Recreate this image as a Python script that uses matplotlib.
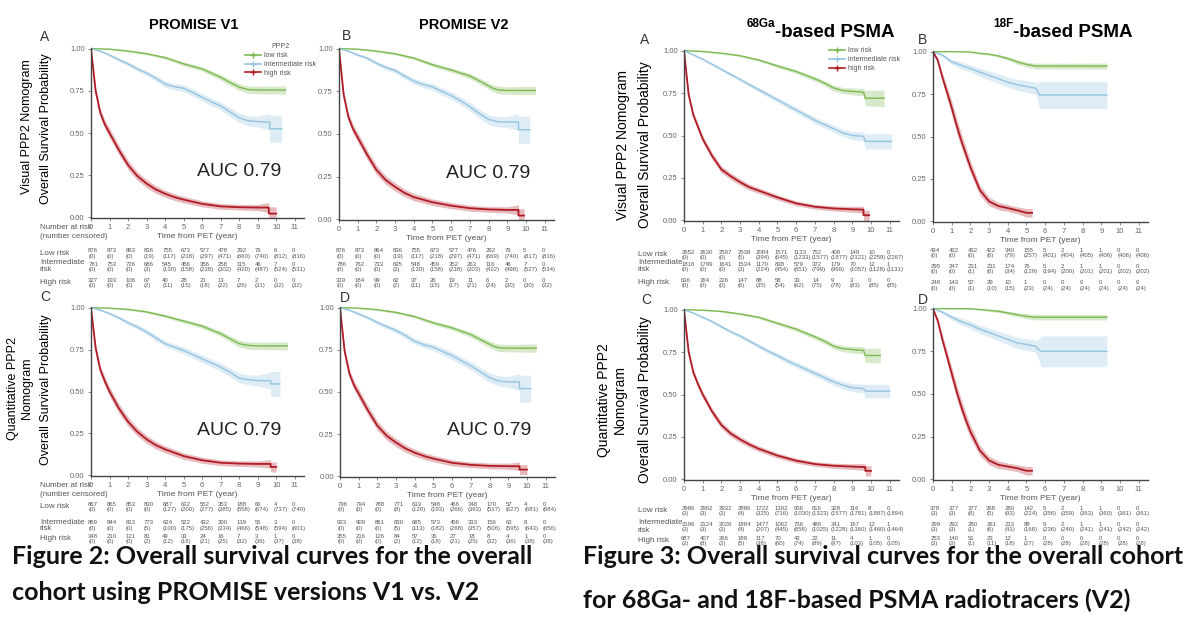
import matplotlib
matplotlib.use('Agg')
import numpy as np
import matplotlib.pyplot as plt
from matplotlib.lines import Line2D
from matplotlib.transforms import blended_transform_factory

W, H = 1200, 624
plt.rcParams['font.family'] = ['Liberation Sans', 'DejaVu Sans']

GREEN = '#7cb950'
BLUE = '#94c4e0'
RED = '#b01c26'
GRAY = '#555555'

years = list(range(12))

# ---------------- Figure 2, panel A (PROMISE V1, visual) ----------------
a_low_t = [0, 1, 2, 3, 4, 5, 6, 7, 7.5, 8, 8.5, 9, 10, 10.5]
a_low_s = [1, 0.997, 0.986, 0.97, 0.947, 0.91, 0.88, 0.83, 0.80, 0.772, 0.757, 0.755, 0.755, 0.755]
a_low_ci = [0, 0.002, 0.005, 0.007, 0.009, 0.011, 0.013, 0.016, 0.018, 0.02, 0.022, 0.022, 0.024, 0.024]
a_int_t = [0, 0.5, 1, 1.5, 2, 2.5, 3, 3.5, 4, 4.5, 5, 5.5, 6, 6.5, 7, 7.5, 8, 8.5, 9, 9.65, 9.65, 10.3]
a_int_s = [1, 0.985, 0.962, 0.935, 0.91, 0.88, 0.855, 0.825, 0.79, 0.775, 0.765, 0.74, 0.712, 0.685, 0.66, 0.625, 0.59, 0.572, 0.568, 0.565, 0.525, 0.525]
a_int_ci = [0, 0.005, 0.008, 0.01, 0.012, 0.014, 0.015, 0.017, 0.018, 0.019, 0.02, 0.021, 0.022, 0.023, 0.024, 0.026, 0.028, 0.03, 0.032, 0.05, 0.08, 0.08]
a_high_t = [0, 0.25, 0.5, 0.75, 1, 1.5, 2, 2.5, 3, 3.5, 4, 4.5, 5, 6, 7, 8, 9, 9.6, 9.6, 10]
a_high_s = [1, 0.75, 0.62, 0.55, 0.50, 0.40, 0.31, 0.245, 0.20, 0.165, 0.14, 0.12, 0.105, 0.08, 0.065, 0.06, 0.058, 0.058, 0.022, 0.022]
a_high_ci = [0, 0.02, 0.025, 0.027, 0.028, 0.028, 0.027, 0.025, 0.024, 0.022, 0.021, 0.02, 0.019, 0.018, 0.017, 0.017, 0.018, 0.03, 0.04, 0.04]

# ---------------- Figure 2, panel B (PROMISE V2, visual) ----------------
b_low_t = [0, 1, 2, 3, 4, 5, 6, 7, 7.7, 8.2, 8.5, 9, 10, 10.5]
b_low_s = [1, 0.997, 0.986, 0.97, 0.945, 0.906, 0.875, 0.84, 0.80, 0.77, 0.758, 0.755, 0.755, 0.755]
b_low_ci = [0, 0.002, 0.005, 0.007, 0.009, 0.011, 0.013, 0.016, 0.018, 0.02, 0.022, 0.022, 0.024, 0.024]
b_int_t = [0, 0.5, 1, 1.5, 2, 2.5, 3, 3.5, 4, 4.5, 5, 5.5, 6, 6.5, 7, 7.5, 8, 8.5, 9, 9.6, 9.6, 10.2]
b_int_s = [1, 0.985, 0.963, 0.945, 0.915, 0.89, 0.872, 0.84, 0.81, 0.79, 0.776, 0.75, 0.725, 0.695, 0.66, 0.62, 0.585, 0.572, 0.57, 0.57, 0.525, 0.525]
b_int_ci = [0, 0.005, 0.008, 0.01, 0.012, 0.014, 0.015, 0.017, 0.018, 0.019, 0.02, 0.021, 0.022, 0.023, 0.024, 0.026, 0.028, 0.03, 0.032, 0.05, 0.08, 0.08]
b_high_t = [0, 0.25, 0.5, 0.75, 1, 1.5, 2, 2.5, 3, 3.5, 4, 4.5, 5, 6, 7, 8, 9, 9.6, 9.6, 9.9]
b_high_s = [1, 0.73, 0.60, 0.53, 0.48, 0.38, 0.29, 0.23, 0.19, 0.155, 0.13, 0.115, 0.10, 0.08, 0.065, 0.058, 0.055, 0.055, 0.022, 0.022]
b_high_ci = [0, 0.02, 0.025, 0.027, 0.028, 0.028, 0.027, 0.025, 0.024, 0.022, 0.021, 0.02, 0.019, 0.018, 0.017, 0.017, 0.018, 0.03, 0.04, 0.04]

# ---------------- Figure 2, panel C (PROMISE V1, quantitative) ----------------
c_low_t = [0, 1, 2, 3, 4, 5, 6, 7, 7.5, 8, 8.5, 9, 10, 10.6]
c_low_s = [1, 0.997, 0.99, 0.975, 0.95, 0.92, 0.89, 0.845, 0.815, 0.785, 0.775, 0.772, 0.772, 0.772]
c_low_ci = [0, 0.002, 0.005, 0.007, 0.009, 0.011, 0.013, 0.016, 0.018, 0.02, 0.022, 0.022, 0.024, 0.024]
c_int_t = [0, 0.5, 1, 1.5, 2, 2.5, 3, 3.5, 4, 4.5, 5, 5.5, 6, 6.5, 7, 7.5, 8, 8.5, 9, 9.7, 9.7, 10.2]
c_int_s = [1, 0.985, 0.965, 0.94, 0.91, 0.885, 0.855, 0.82, 0.785, 0.765, 0.745, 0.72, 0.695, 0.67, 0.645, 0.615, 0.58, 0.57, 0.565, 0.565, 0.545, 0.545]
c_int_ci = [0, 0.005, 0.008, 0.01, 0.012, 0.014, 0.015, 0.017, 0.018, 0.019, 0.02, 0.021, 0.022, 0.023, 0.024, 0.026, 0.028, 0.03, 0.032, 0.05, 0.075, 0.075]
c_high_t = [0, 0.25, 0.5, 0.75, 1, 1.5, 2, 2.5, 3, 3.5, 4, 4.5, 5, 6, 7, 8, 9, 9.7, 9.7, 10]
c_high_s = [1, 0.76, 0.63, 0.56, 0.50, 0.40, 0.32, 0.26, 0.215, 0.18, 0.155, 0.135, 0.115, 0.09, 0.075, 0.07, 0.068, 0.068, 0.05, 0.05]
c_high_ci = [0, 0.02, 0.025, 0.027, 0.028, 0.028, 0.027, 0.025, 0.024, 0.022, 0.021, 0.02, 0.019, 0.018, 0.017, 0.017, 0.018, 0.025, 0.03, 0.03]

# ---------------- Figure 2, panel D (PROMISE V2, quantitative) ----------------
d_low_t = [0, 1, 2, 3, 4, 5, 6, 7, 7.7, 8.2, 8.5, 9, 10, 10.5]
d_low_s = [1, 0.997, 0.988, 0.972, 0.947, 0.91, 0.88, 0.84, 0.80, 0.772, 0.762, 0.76, 0.76, 0.76]
d_low_ci = [0, 0.002, 0.005, 0.007, 0.009, 0.011, 0.013, 0.016, 0.018, 0.02, 0.022, 0.022, 0.024, 0.024]
d_int_t = [0, 0.5, 1, 1.5, 2, 2.5, 3, 3.5, 4, 4.5, 5, 5.5, 6, 6.5, 7, 7.5, 8, 8.5, 9, 9.6, 9.6, 10.2]
d_int_s = [1, 0.985, 0.963, 0.94, 0.912, 0.888, 0.865, 0.835, 0.80, 0.78, 0.765, 0.74, 0.715, 0.685, 0.655, 0.62, 0.585, 0.565, 0.56, 0.56, 0.52, 0.52]
d_int_ci = [0, 0.005, 0.008, 0.01, 0.012, 0.014, 0.015, 0.017, 0.018, 0.019, 0.02, 0.021, 0.022, 0.023, 0.024, 0.026, 0.028, 0.03, 0.032, 0.05, 0.08, 0.08]
d_high_t = [0, 0.25, 0.5, 0.75, 1, 1.5, 2, 2.5, 3, 3.5, 4, 4.5, 5, 6, 7, 8, 9, 9.6, 9.6, 10]
d_high_s = [1, 0.74, 0.61, 0.54, 0.49, 0.39, 0.30, 0.24, 0.20, 0.165, 0.14, 0.12, 0.105, 0.08, 0.068, 0.062, 0.06, 0.06, 0.04, 0.04]
d_high_ci = [0, 0.02, 0.025, 0.027, 0.028, 0.028, 0.027, 0.025, 0.024, 0.022, 0.021, 0.02, 0.019, 0.018, 0.017, 0.017, 0.018, 0.025, 0.03, 0.03]

# ---------------- Figure 3, panel A (68Ga, visual) ----------------
ga_low_t = [0, 1, 2, 3, 4, 5, 6, 7, 7.5, 8, 8.5, 9, 9.6, 9.7, 10.7]
ga_low_s = [1, 0.995, 0.985, 0.97, 0.945, 0.91, 0.877, 0.834, 0.81, 0.78, 0.765, 0.76, 0.755, 0.72, 0.72]
ga_low_ci = [0, 0.002, 0.004, 0.006, 0.008, 0.01, 0.012, 0.014, 0.015, 0.017, 0.018, 0.02, 0.022, 0.045, 0.05]
ga_int_t = [0, 0.5, 1, 1.5, 2, 2.5, 3, 3.5, 4, 4.5, 5, 5.5, 6, 6.5, 7, 7.5, 8, 8.5, 9, 9.6, 9.7, 11.1]
ga_int_s = [1, 0.975, 0.95, 0.92, 0.89, 0.86, 0.83, 0.80, 0.77, 0.74, 0.71, 0.68, 0.65, 0.62, 0.59, 0.565, 0.54, 0.515, 0.50, 0.495, 0.465, 0.465]
ga_int_ci = [0, 0.005, 0.007, 0.008, 0.009, 0.01, 0.011, 0.012, 0.013, 0.014, 0.015, 0.016, 0.017, 0.018, 0.019, 0.02, 0.021, 0.022, 0.024, 0.026, 0.045, 0.045]
ga_high_t = [0, 0.25, 0.5, 0.75, 1, 1.5, 2, 2.5, 3, 3.5, 4, 4.5, 5, 6, 7, 8, 9, 9.6, 9.6, 9.9]
ga_high_s = [1, 0.74, 0.62, 0.55, 0.48, 0.38, 0.30, 0.26, 0.225, 0.195, 0.175, 0.155, 0.135, 0.10, 0.08, 0.07, 0.065, 0.063, 0.03, 0.03]
ga_high_ci = [0, 0.015, 0.018, 0.02, 0.02, 0.02, 0.02, 0.019, 0.018, 0.017, 0.016, 0.016, 0.015, 0.014, 0.014, 0.015, 0.017, 0.02, 0.03, 0.03]

# ---------------- Figure 3, panel B (18F, visual) ----------------
f_low_t = [0, 1, 2, 2.5, 3, 3.5, 4, 4.5, 5, 5.5, 9.3]
f_low_s = [1, 1, 0.998, 0.99, 0.985, 0.975, 0.96, 0.94, 0.925, 0.915, 0.915]
f_low_ci = [0, 0, 0.002, 0.004, 0.006, 0.008, 0.01, 0.013, 0.015, 0.017, 0.018]
f_int_t = [0, 0.5, 1, 1.5, 2, 2.5, 3, 3.5, 4, 4.5, 5, 5.5, 5.6, 5.7, 9.3]
f_int_s = [1, 0.98, 0.94, 0.92, 0.90, 0.88, 0.86, 0.84, 0.82, 0.805, 0.795, 0.785, 0.765, 0.745, 0.745]
f_int_ci = [0, 0.01, 0.015, 0.02, 0.022, 0.024, 0.026, 0.028, 0.03, 0.032, 0.034, 0.036, 0.05, 0.08, 0.08]
f_high_t = [0, 0.25, 0.5, 0.75, 1, 1.25, 1.5, 1.75, 2, 2.5, 3, 3.5, 4, 4.5, 5, 5.3]
f_high_s = [1, 0.95, 0.85, 0.76, 0.67, 0.57, 0.48, 0.40, 0.32, 0.185, 0.117, 0.09, 0.078, 0.065, 0.05, 0.05]
f_high_ci = [0, 0.015, 0.025, 0.035, 0.04, 0.042, 0.042, 0.04, 0.037, 0.03, 0.025, 0.022, 0.02, 0.02, 0.025, 0.025]

# ---------------- Figure 3, panel C (68Ga, quantitative) ----------------
gq_low_t = [0, 1, 2, 3, 4, 5, 6, 7, 7.5, 8, 8.5, 9, 9.6, 9.7, 10.5]
gq_low_s = [1, 0.997, 0.99, 0.975, 0.955, 0.92, 0.885, 0.84, 0.815, 0.785, 0.77, 0.765, 0.76, 0.73, 0.73]
gq_low_ci = [0, 0.002, 0.004, 0.006, 0.008, 0.01, 0.012, 0.014, 0.015, 0.017, 0.018, 0.02, 0.022, 0.04, 0.045]
gq_int_t = [0, 0.5, 1, 1.5, 2, 2.5, 3, 3.5, 4, 4.5, 5, 5.5, 6, 6.5, 7, 7.5, 8, 8.5, 9, 9.6, 9.7, 11.0]
gq_int_s = [1, 0.98, 0.955, 0.93, 0.90, 0.87, 0.845, 0.815, 0.785, 0.755, 0.73, 0.70, 0.675, 0.65, 0.625, 0.60, 0.575, 0.555, 0.54, 0.535, 0.52, 0.52]
gq_int_ci = [0, 0.005, 0.007, 0.008, 0.009, 0.01, 0.011, 0.012, 0.013, 0.014, 0.015, 0.016, 0.017, 0.018, 0.019, 0.02, 0.021, 0.022, 0.024, 0.026, 0.04, 0.04]
gq_high_t = [0, 0.25, 0.5, 0.75, 1, 1.5, 2, 2.5, 3, 3.5, 4, 4.5, 5, 6, 7, 8, 9, 9.7, 9.7, 10]
gq_high_s = [1, 0.75, 0.63, 0.56, 0.50, 0.40, 0.32, 0.27, 0.235, 0.205, 0.18, 0.16, 0.14, 0.11, 0.09, 0.08, 0.075, 0.072, 0.05, 0.05]
gq_high_ci = [0, 0.015, 0.018, 0.02, 0.02, 0.02, 0.02, 0.019, 0.018, 0.017, 0.016, 0.016, 0.015, 0.014, 0.014, 0.015, 0.017, 0.02, 0.03, 0.03]

# ---------------- Figure 3, panel D (18F, quantitative) ----------------
fq_low_t = [0, 1, 2, 2.5, 3, 3.5, 4, 4.5, 5, 5.5, 9.3]
fq_low_s = [1, 1, 1, 0.995, 0.99, 0.985, 0.975, 0.965, 0.955, 0.95, 0.95]
fq_low_ci = [0, 0, 0.002, 0.004, 0.006, 0.008, 0.01, 0.012, 0.014, 0.016, 0.016]
fq_int_t = [0, 0.5, 1, 1.5, 2, 2.5, 3, 3.5, 4, 4.5, 5, 5.5, 5.6, 5.8, 9.3]
fq_int_s = [1, 0.98, 0.95, 0.925, 0.905, 0.88, 0.86, 0.84, 0.82, 0.80, 0.79, 0.78, 0.765, 0.75, 0.75]
fq_int_ci = [0, 0.01, 0.015, 0.02, 0.022, 0.024, 0.026, 0.028, 0.03, 0.032, 0.034, 0.036, 0.05, 0.09, 0.09]
fq_high_t = [0, 0.25, 0.5, 0.75, 1, 1.25, 1.5, 1.75, 2, 2.5, 3, 3.5, 4, 4.5, 5, 5.3]
fq_high_s = [1, 0.93, 0.82, 0.72, 0.62, 0.52, 0.43, 0.35, 0.28, 0.17, 0.11, 0.085, 0.075, 0.065, 0.05, 0.05]
fq_high_ci = [0, 0.015, 0.025, 0.035, 0.04, 0.042, 0.042, 0.04, 0.037, 0.03, 0.025, 0.022, 0.02, 0.02, 0.025, 0.025]

# ---------------- number at risk (number censored) ----------------
a_risk_low = [876, 873, 863, 836, 755, 673, 577, 478, 292, 76, 6, 0]
a_cens_low = [0, 0, 0, 19, 117, 218, 297, 471, 660, 740, 812, 816]
a_risk_int = [781, 753, 726, 686, 545, 456, 356, 258, 115, 46, 7, 0]
a_cens_int = [0, 0, 0, 3, 130, 158, 238, 302, 420, 487, 524, 531]
a_risk_high = [327, 193, 106, 67, 40, 28, 21, 13, 7, 2, 0, 0]
a_cens_high = [0, 0, 0, 2, 11, 15, 18, 22, 26, 31, 32, 32]

b_risk_low = [876, 873, 864, 836, 755, 673, 577, 476, 292, 76, 5, 0]
b_cens_low = [0, 0, 0, 19, 117, 218, 297, 471, 669, 740, 817, 816]
b_risk_int = [786, 762, 733, 695, 548, 459, 352, 263, 116, 46, 7, 0]
b_cens_int = [0, 0, 0, 3, 130, 158, 238, 303, 422, 498, 527, 534]
b_risk_high = [319, 184, 99, 62, 37, 26, 19, 11, 6, 2, 0, 0]
b_cens_high = [0, 0, 0, 2, 11, 15, 17, 21, 24, 30, 30, 32]

c_risk_low = [867, 865, 853, 830, 687, 632, 552, 353, 188, 66, 4, 0]
c_cens_low = [0, 0, 0, 0, 127, 200, 277, 385, 558, 674, 737, 740]
c_risk_int = [869, 844, 813, 773, 624, 522, 432, 300, 139, 55, 3, 0]
c_cens_int = [0, 0, 0, 5, 100, 175, 256, 334, 466, 548, 594, 601]
c_risk_high = [348, 210, 121, 81, 49, 33, 24, 16, 7, 3, 1, 0]
c_cens_high = [0, 0, 0, 2, 12, 16, 21, 25, 32, 36, 37, 38]

d_risk_low = [796, 794, 788, 771, 633, 548, 466, 348, 170, 57, 4, 0]
d_cens_low = [0, 0, 0, 8, 120, 193, 266, 363, 517, 627, 681, 684]
d_risk_int = [933, 909, 861, 830, 685, 573, 456, 333, 156, 63, 8, 0]
d_cens_int = [0, 0, 0, 5, 113, 182, 268, 357, 506, 595, 643, 656]
d_risk_high = [355, 216, 126, 84, 57, 36, 27, 18, 8, 4, 1, 0]
d_cens_high = [0, 0, 0, 2, 12, 18, 21, 25, 32, 36, 38, 38]

ga_risk_low = [2652, 2630, 2597, 2538, 2084, 1571, 1133, 752, 408, 149, 10, 0]
ga_cens_low = [0, 0, 0, 5, 394, 645, 1233, 1577, 1877, 2121, 2259, 2267]
ga_risk_int = [1816, 1799, 1641, 1534, 1170, 838, 579, 372, 179, 70, 12, 1]
ga_cens_int = [0, 0, 0, 3, 224, 454, 651, 799, 969, 1057, 1128, 1131]
ga_risk_high = [636, 364, 226, 147, 88, 58, 33, 14, 9, 3, 0, 0]
ga_cens_high = [0, 0, 0, 6, 35, 54, 62, 75, 78, 83, 85, 85]

f_risk_low = [434, 432, 432, 422, 340, 155, 5, 2, 1, 1, 0, 0]
f_cens_low = [0, 0, 0, 6, 79, 257, 401, 404, 405, 406, 406, 406]
f_risk_int = [295, 247, 231, 211, 174, 76, 5, 2, 1, 1, 0, 0]
f_cens_int = [0, 0, 1, 6, 34, 129, 194, 200, 201, 201, 202, 202]
f_risk_high = [248, 143, 57, 29, 10, 1, 0, 0, 0, 0, 0, 0]
f_cens_high = [0, 0, 1, 10, 15, 23, 24, 24, 24, 24, 24, 24]

gq_risk_low = [2986, 2962, 2932, 2886, 1722, 1302, 936, 616, 328, 116, 8, 0]
gq_cens_low = [3, 3, 3, 4, 325, 716, 1030, 1323, 1577, 1781, 1887, 1894]
gq_risk_int = [2196, 2124, 2026, 1884, 1477, 1062, 736, 486, 241, 167, 12, 1]
gq_cens_int = [3, 3, 3, 4, 207, 445, 658, 1025, 1228, 1360, 1460, 1464]
gq_risk_high = [687, 407, 266, 188, 117, 70, 43, 22, 11, 4, 1, 0]
gq_cens_high = [3, 8, 3, 5, 38, 60, 74, 89, 97, 103, 105, 105]

fq_risk_low = [378, 377, 377, 368, 280, 142, 5, 2, 1, 1, 0, 0]
fq_cens_low = [3, 3, 8, 5, 93, 224, 356, 359, 363, 360, 361, 361]
fq_risk_int = [299, 292, 280, 261, 213, 88, 9, 2, 1, 1, 0, 0]
fq_cens_int = [3, 3, 1, 6, 41, 168, 236, 240, 241, 241, 242, 242]
fq_risk_high = [253, 140, 51, 23, 12, 1, 0, 0, 0, 0, 0, 0]
fq_cens_high = [3, 3, 1, 11, 18, 27, 28, 28, 28, 28, 28, 28]


fig = plt.figure(figsize=(W / 100, H / 100), dpi=100)


def add_axes(l, t, r, b):
    # position given in pixels of the 1200x624 canvas
    return fig.add_axes([l / W, 1 - b / H, (r - l) / W, (b - t) / H])


def style_axes(ax):
    ax.set_xlim(0, 11.5)
    ax.set_ylim(-0.004, 1.004)
    ax.set_xticks(years)
    ax.set_yticks([0, 0.25, 0.5, 0.75, 1.0])
    ax.set_yticklabels(['0.00', '0.25', '0.50', '0.75', '1.00'])
    for side in ['top', 'right']:
        ax.spines[side].set_visible(False)
    for side in ['left', 'bottom']:
        ax.spines[side].set_color('#444444')
        ax.spines[side].set_linewidth(1.0)
    ax.tick_params(labelsize=5.5, labelcolor='#666666', color='#777777',
                   length=2, width=0.6, pad=2.5)
    ax.set_xlabel('Time from PET (year)', fontsize=6, color=GRAY, labelpad=1)
    ax.patch.set_alpha(0)


def curve(ax, t, s, ci, color, lw=1.0):
    t = np.array(t)
    s = np.array(s)
    ci = np.array(ci)
    ax.fill_between(t, s - ci, s + ci, color=color, alpha=0.3, lw=0)
    ax.plot(t, s, color=color, lw=lw)


def risk_table(ax, rows, y_rows, labels=None, label_x=None):
    tr = blended_transform_factory(ax.transData, fig.transFigure)
    for (risk, cens), y in zip(rows, y_rows):
        for k, (n, c) in enumerate(zip(risk, cens)):
            ax.text(k - 0.15, 1 - y / H, str(n), transform=tr, fontsize=4.3,
                    color=GRAY, va='center', ha='left', clip_on=False)
            ax.text(k - 0.15, 1 - (y + 5.5) / H, f'({c})', transform=tr, fontsize=4.3,
                    color=GRAY, va='center', ha='left', clip_on=False)
    if labels:
        for lab, y in zip(labels, y_rows):
            fig.text(label_x / W, 1 - (y + 2.5) / H, lab, fontsize=5.8, color=GRAY,
                     va='center', ha='left', linespacing=1.0)


def panel(box, low, inter, high):
    ax = add_axes(*box)
    style_axes(ax)
    curve(ax, *low, GREEN)
    curve(ax, *inter, BLUE)
    curve(ax, *high, RED, lw=1.3)
    return ax


row_labels = ['Low risk', 'Intermediate\nrisk', 'High risk']

# ---------------- Figure 2 ----------------
ax_a = panel((91, 48, 304, 218), (a_low_t, a_low_s, a_low_ci),
             (a_int_t, a_int_s, a_int_ci), (a_high_t, a_high_s, a_high_ci))
ax_b = panel((339, 48, 554, 220), (b_low_t, b_low_s, b_low_ci),
             (b_int_t, b_int_s, b_int_ci), (b_high_t, b_high_s, b_high_ci))
ax_c = panel((91, 307, 304, 476), (c_low_t, c_low_s, c_low_ci),
             (c_int_t, c_int_s, c_int_ci), (c_high_t, c_high_s, c_high_ci))
ax_d = panel((340, 307, 555, 477), (d_low_t, d_low_s, d_low_ci),
             (d_int_t, d_int_s, d_int_ci), (d_high_t, d_high_s, d_high_ci))

for ax in [ax_a, ax_b, ax_c, ax_d]:
    ax.text(5.7, 0.27, 'AUC 0.79', fontsize=14, color='#222222', va='center')

risk_table(ax_a, [(a_risk_low, a_cens_low), (a_risk_int, a_cens_int), (a_risk_high, a_cens_high)],
           [251, 264, 280], row_labels, 40)
risk_table(ax_b, [(b_risk_low, b_cens_low), (b_risk_int, b_cens_int), (b_risk_high, b_cens_high)],
           [251, 264, 280])
risk_table(ax_c, [(c_risk_low, c_cens_low), (c_risk_int, c_cens_int), (c_risk_high, c_cens_high)],
           [504, 523, 536], row_labels, 40)
risk_table(ax_d, [(d_risk_low, d_cens_low), (d_risk_int, d_cens_int), (d_risk_high, d_cens_high)],
           [504, 523, 536])

fig.text(40 / W, 1 - 232 / H, 'Number at risk\n(number censored)', fontsize=5.8, color=GRAY,
         va='center', ha='left', linespacing=1.3)
fig.text(40 / W, 1 - 490 / H, 'Number at risk\n(number censored)', fontsize=5.8, color=GRAY,
         va='center', ha='left', linespacing=1.3)

fig.text(194 / W, 1 - 25 / H, 'PROMISE V1', fontsize=10.5, fontweight='bold', ha='center', va='center')
fig.text(464 / W, 1 - 25 / H, 'PROMISE V2', fontsize=10.5, fontweight='bold', ha='center', va='center')

for lab, x, y in [('A', 40, 37), ('B', 342, 36), ('C', 40, 297), ('D', 340, 298),
                  ('A', 640, 40), ('B', 918, 40), ('C', 641, 300), ('D', 918, 300)]:
    fig.text(x / W, 1 - y / H, lab, fontsize=10, color='#333333', ha='left', va='center')

fig.text(27 / W, 1 - 127 / H, 'Visual PPP2 Nomogram', fontsize=9, rotation=90, ha='center', va='center')
fig.text(46 / W, 1 - 129 / H, 'Overall Survival Probability', fontsize=9, rotation=90, ha='center', va='center')
fig.text(20 / W, 1 - 388 / H, 'Quantitative PPP2\nNomogram', fontsize=9, rotation=90, ha='center',
         va='center', linespacing=1.2)
fig.text(46 / W, 1 - 390 / H, 'Overall Survival Probability', fontsize=9, rotation=90, ha='center', va='center')

handles = [Line2D([], [], color=c, lw=1.2, marker='+', markersize=4) for c in [GREEN, BLUE, RED]]
leg = fig.legend(handles, ['low risk', 'intermediate risk', 'high risk'], title='PPP2',
                 loc='upper left', bbox_to_anchor=(242 / W, 1 - 40 / H), frameon=False,
                 fontsize=5, title_fontsize=5, handlelength=2.2, handletextpad=0.4,
                 labelspacing=0.25, borderpad=0)
for txt in leg.get_texts():
    txt.set_color(GRAY)
leg.get_title().set_color(GRAY)

# ---------------- Figure 3 ----------------
ax_ga = panel((684, 50, 899, 221), (ga_low_t, ga_low_s, ga_low_ci),
              (ga_int_t, ga_int_s, ga_int_ci), (ga_high_t, ga_high_s, ga_high_ci))
ax_f = panel((933, 51, 1148, 222), (f_low_t, f_low_s, f_low_ci),
             (f_int_t, f_int_s, f_int_ci), (f_high_t, f_high_s, f_high_ci))
ax_gq = panel((684, 309, 899, 480), (gq_low_t, gq_low_s, gq_low_ci),
              (gq_int_t, gq_int_s, gq_int_ci), (gq_high_t, gq_high_s, gq_high_ci))
ax_fq = panel((933, 308, 1148, 480), (fq_low_t, fq_low_s, fq_low_ci),
              (fq_int_t, fq_int_s, fq_int_ci), (fq_high_t, fq_high_s, fq_high_ci))

risk_table(ax_ga, [(ga_risk_low, ga_cens_low), (ga_risk_int, ga_cens_int), (ga_risk_high, ga_cens_high)],
           [252, 264, 280], row_labels, 638)
risk_table(ax_f, [(f_risk_low, f_cens_low), (f_risk_int, f_cens_int), (f_risk_high, f_cens_high)],
           [250, 266, 283])
risk_table(ax_gq, [(gq_risk_low, gq_cens_low), (gq_risk_int, gq_cens_int), (gq_risk_high, gq_cens_high)],
           [508, 524, 538], row_labels, 638)
risk_table(ax_fq, [(fq_risk_low, fq_cens_low), (fq_risk_int, fq_cens_int), (fq_risk_high, fq_cens_high)],
           [508, 524, 538])

fig.text(775 / W, 1 - 37 / H, '-based PSMA', fontsize=13.5, fontweight='bold', ha='left', va='baseline')
fig.text(775 / W, 1 - 27 / H, '68Ga', fontsize=8.5, fontweight='bold', ha='right', va='baseline')
fig.text(1013 / W, 1 - 37 / H, '-based PSMA', fontsize=13.5, fontweight='bold', ha='left', va='baseline')
fig.text(1013 / W, 1 - 27 / H, '18F', fontsize=8.5, fontweight='bold', ha='right', va='baseline')

fig.text(623 / W, 1 - 145 / H, 'Visual PPP2 Nomogram', fontsize=10, rotation=90, ha='center', va='center')
fig.text(645 / W, 1 - 145 / H, 'Overall Survival Probability', fontsize=10, rotation=90, ha='center', va='center')
fig.text(612 / W, 1 - 400 / H, 'Quantitative PPP2\nNomogram', fontsize=10, rotation=90, ha='center',
         va='center', linespacing=1.2)
fig.text(645 / W, 1 - 400 / H, 'Overall Survival Probability', fontsize=10, rotation=90, ha='center', va='center')

leg2 = fig.legend(handles, ['low risk', 'intermediate risk', 'high risk'],
                  loc='upper left', bbox_to_anchor=(826 / W, 1 - 44 / H), frameon=False,
                  fontsize=5, handlelength=2.2, handletextpad=0.4, labelspacing=0.25, borderpad=0)
for txt in leg2.get_texts():
    txt.set_color(GRAY)

# ---------------- captions ----------------
cap = dict(fontsize=18, fontweight='bold', family=['Lato', 'DejaVu Sans'], color='#111111',
           ha='left', va='center')
fig.text(12 / W, 1 - 557 / H, 'Figure 2: Overall survival curves for the overall', **cap)
fig.text(12 / W, 1 - 592 / H, 'cohort using PROMISE versions V1 vs. V2', **cap)
fig.text(583 / W, 1 - 557 / H, 'Figure 3: Overall survival curves for the overall cohort', **cap)
fig.text(583 / W, 1 - 600 / H, 'for 68Ga- and 18F-based PSMA radiotracers (V2)', **cap)

fig.savefig('out.png', dpi=100, facecolor='white')
